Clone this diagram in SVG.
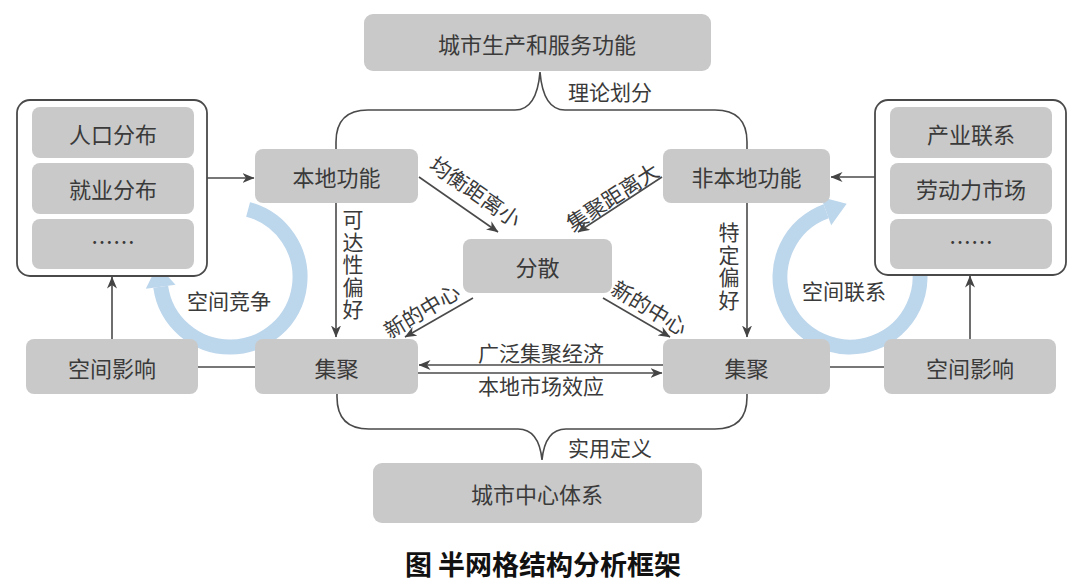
<svg xmlns="http://www.w3.org/2000/svg" width="1080" height="586" viewBox="0 0 1080 586">
<style>
.bx{fill:#c9c9c9;}
.ob{fill:#ffffff;stroke:#4a4a4a;stroke-width:1.8;}
.t{font-family:"Noto Sans CJK SC","Noto Sans",sans-serif;font-size:22px;fill:#3a3a3a;text-anchor:middle;dominant-baseline:central;}
.lb{font-family:"Noto Sans CJK SC","Noto Sans",sans-serif;font-size:21px;fill:#3a3a3a;text-anchor:middle;dominant-baseline:central;}
.vt{font-family:"Noto Sans CJK SC","Noto Sans",sans-serif;font-size:21px;fill:#3a3a3a;text-anchor:middle;writing-mode:vertical-rl;letter-spacing:1.5px;}
.ln{fill:none;stroke:#4a4a4a;stroke-width:1.6;}
.ar{fill:none;stroke:#4a4a4a;stroke-width:1.6;marker-end:url(#ah);}
.blue{fill:none;stroke:#bcd6ec;stroke-width:15;}
.bh{fill:#bcd6ec;}
.cap{font-family:"Noto Sans CJK SC","Noto Sans",sans-serif;font-size:27px;font-weight:bold;fill:#111;text-anchor:middle;dominant-baseline:central;}
</style>
<defs>
<marker id="ah" viewBox="0 0 12 10" refX="11.5" refY="5" markerWidth="12" markerHeight="10" markerUnits="userSpaceOnUse" orient="auto">
<path d="M0,0 L12,5 L0,10 L3.5,5 z" fill="#444"/>
</marker>
</defs>

<g id="cycles">
<path class="blue" d="M248.1,209.4 A70,70 0 1 1 160.7,286.7"/>
<polygon class="bh" points="175.5,284.7 145.8,288.8 157.6,264.9"/>
<path class="blue" d="M915.8,253.1 A70,70 0 1 1 826.1,211.2"/>
<polygon class="bh" points="831.2,225.3 820.9,197.1 846.7,203.7"/>
</g>

<g id="connectors">
<path class="ln" d="M336,149 L336,142 Q336,110 368,110 L515,110 C530,110 538,96 540,72 C542,96 550,110 565,110 L715,110 Q747,110 747,142 L747,149"/>
<path class="ln" d="M337,394 L337,397 Q337,429 369,429 L518,429 C532,429 540,440 542,460 C544,440 552,429 566,429 L715,429 Q747,429 747,397 L747,394"/>
<line class="ar" x1="207" y1="178" x2="254" y2="178"/>
<line class="ar" x1="875" y1="177" x2="831" y2="177"/>
<line class="ar" x1="419" y1="177" x2="498" y2="232"/>
<line class="ar" x1="662" y1="177" x2="578" y2="232"/>
<line class="ar" x1="473" y1="298" x2="405" y2="337"/>
<line class="ar" x1="603" y1="298" x2="670" y2="337"/>
<line class="ar" x1="336" y1="203" x2="336" y2="337"/>
<line class="ar" x1="747" y1="203" x2="747" y2="337"/>
<line class="ar" x1="663" y1="365" x2="419" y2="365"/>
<line class="ar" x1="418" y1="373" x2="662" y2="373"/>
<line class="ln" x1="198" y1="367" x2="255" y2="367"/>
<line class="ln" x1="830" y1="367" x2="884" y2="367"/>
<line class="ar" x1="112" y1="339" x2="112" y2="277"/>
<line class="ar" x1="970" y1="339" x2="970" y2="276"/>
<text class="lb" x="610" y="91">理论划分</text>
<text class="lb" x="610" y="447">实用定义</text>
<text class="lb" transform="translate(476,191) rotate(35)">均衡距离小</text>
<text class="lb" transform="translate(612,196) rotate(-33)">集聚距离大</text>
<text class="lb" transform="translate(421,310) rotate(-31)">新的中心</text>
<text class="lb" transform="translate(650,307) rotate(31)">新的中心</text>
<text class="vt" x="353" y="265">可达性偏好</text>
<text class="vt" x="729" y="267">特定偏好</text>
<text class="lb" x="541" y="352">广泛集聚经济</text>
<text class="lb" x="541" y="385">本地市场效应</text>
<text class="lb" x="229" y="300">空间竞争</text>
<text class="lb" x="844" y="290">空间联系</text>
</g>

<g id="top-function">
<rect class="bx" x="364" y="14" width="347" height="57" rx="9"/>
<text class="t" x="537" y="43">城市生产和服务功能</text>
</g>
<g id="left-factors">
<rect class="ob" x="17" y="100" width="190" height="176" rx="13"/>
<rect class="bx" x="32" y="107" width="162" height="51" rx="8"/>
<text class="t" x="113" y="133">人口分布</text>
<rect class="bx" x="32" y="163" width="162" height="51" rx="8"/>
<text class="t" x="113" y="188">就业分布</text>
<rect class="bx" x="32" y="219" width="162" height="50" rx="8"/>
<text class="t" x="113" y="240">……</text>
</g>
<g id="right-factors">
<rect class="ob" x="875" y="100" width="191" height="175" rx="13"/>
<rect class="bx" x="890" y="107" width="162" height="51" rx="8"/>
<text class="t" x="971" y="133">产业联系</text>
<rect class="bx" x="890" y="163" width="162" height="51" rx="8"/>
<text class="t" x="971" y="188">劳动力市场</text>
<rect class="bx" x="890" y="219" width="162" height="50" rx="8"/>
<text class="t" x="971" y="240">……</text>
</g>
<g id="local">
<rect class="bx" x="255" y="149" width="163" height="54" rx="8"/>
<text class="t" x="336.5" y="176">本地功能</text>
</g>
<g id="nonlocal">
<rect class="bx" x="663" y="149" width="167" height="54" rx="8"/>
<text class="t" x="746.5" y="176">非本地功能</text>
</g>
<g id="disperse">
<rect class="bx" x="463" y="239" width="149" height="54" rx="8"/>
<text class="t" x="537.5" y="266">分散</text>
</g>
<g id="agg-left">
<rect class="bx" x="255" y="339" width="163" height="55" rx="8"/>
<text class="t" x="336.5" y="366.5">集聚</text>
</g>
<g id="agg-right">
<rect class="bx" x="663" y="339" width="167" height="55" rx="8"/>
<text class="t" x="746.5" y="366.5">集聚</text>
</g>
<g id="impact-left">
<rect class="bx" x="26" y="339" width="172" height="55" rx="8"/>
<text class="t" x="112" y="366.5">空间影响</text>
</g>
<g id="impact-right">
<rect class="bx" x="884" y="339" width="172" height="55" rx="8"/>
<text class="t" x="970" y="366.5">空间影响</text>
</g>
<g id="center-system">
<rect class="bx" x="373" y="463" width="329" height="60" rx="9"/>
<text class="t" x="537" y="493">城市中心体系</text>
</g>
<text class="cap" x="543" y="563">图  半网格结构分析框架</text>
</svg>
